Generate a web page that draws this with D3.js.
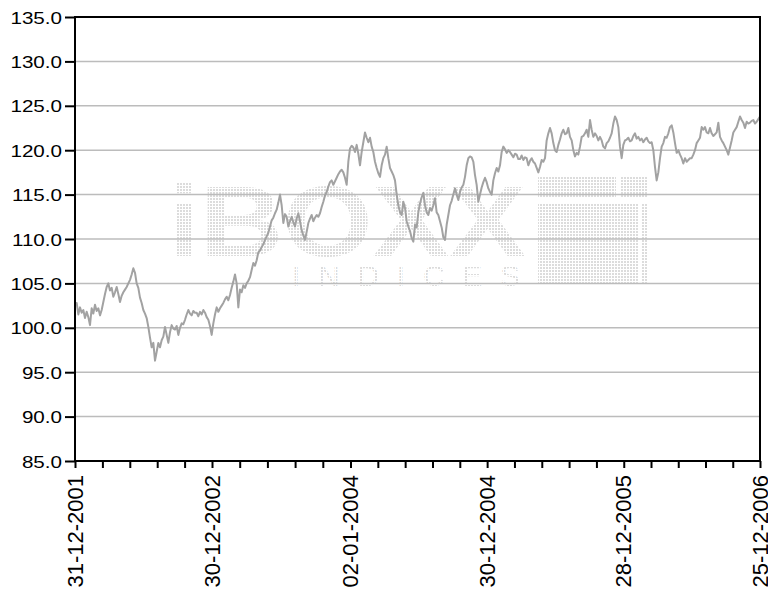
<!DOCTYPE html>
<html>
<head>
<meta charset="utf-8">
<script src="https://cdn.jsdelivr.net/npm/d3@7"></script>
<style>
  body { margin: 0; background: #fff; }
  svg { display: block; }
</style>
</head>
<body>
<svg id="chart"></svg>
<script>
// index level, evenly spaced observations from first to last date
const firstDate = "2001-12-31";
const lastDate = "2006-12-25";
const values = [
  102.6,102.8,101.5,102.3,101.7,102.0,101.1,101.8,101.2,100.3,
  102.2,101.6,102.6,101.9,102.2,101.4,102.0,102.9,103.8,104.6,
  105.0,104.2,104.5,103.5,104.0,104.6,103.8,102.9,103.6,104.0,
  104.3,104.6,105.0,105.4,106.0,106.7,106.2,105.0,104.5,103.4,
  102.8,102.0,101.6,101.1,100.1,98.9,97.8,98.3,96.3,97.3,
  98.3,97.8,98.6,99.0,100.1,99.2,98.3,99.5,100.3,99.9,
  99.8,100.2,99.2,100.0,100.5,100.4,100.9,101.5,102.0,101.6,
  101.4,101.9,101.7,101.7,101.3,101.8,101.5,102.0,101.7,101.2,
  100.9,100.2,99.2,100.5,101.5,102.3,101.8,102.2,102.5,102.8,
  103.2,103.5,103.1,103.7,104.5,105.2,106.0,105.0,102.3,104.3,
  104.0,104.8,104.5,105.0,105.3,105.7,106.5,107.3,107.0,107.6,
  108.5,108.7,109.1,109.4,109.9,110.3,110.7,111.4,112.1,112.4,
  112.9,113.3,114.1,115.0,113.8,111.8,112.8,112.5,111.4,112.0,
  112.5,111.9,111.4,112.3,112.9,112.0,111.0,110.4,109.9,110.8,
  111.8,112.3,112.7,112.0,112.4,112.7,112.5,112.9,113.6,114.2,
  114.9,115.3,115.9,116.4,116.6,116.1,116.5,116.9,117.3,117.6,
  117.8,117.5,116.9,116.1,118.7,120.2,120.5,120.3,119.8,120.6,
  119.6,118.3,119.8,120.9,122.0,121.4,120.9,121.4,120.4,119.8,
  118.7,118.0,117.4,117.0,118.3,119.1,119.5,120.4,119.1,118.0,
  117.6,117.2,116.6,115.0,113.8,113.0,112.7,114.2,113.5,112.0,
  111.4,110.9,110.1,109.7,111.6,111.3,113.0,114.0,114.7,115.2,
  113.8,113.0,112.7,113.5,113.2,113.8,114.6,113.0,112.7,112.0,
  111.3,110.2,109.9,111.6,112.7,113.8,114.3,115.0,115.7,115.0,
  114.4,115.3,115.8,116.1,117.0,118.3,119.1,119.3,119.2,118.7,
  117.2,116.1,114.2,115.0,115.8,116.4,116.9,116.4,115.7,115.3,
  115.0,116.6,117.4,118.0,117.6,118.3,119.8,120.4,120.1,119.7,
  120.0,119.8,119.5,119.2,119.6,119.5,119.0,119.0,119.4,118.9,
  119.2,119.1,118.3,118.8,119.1,118.7,118.5,118.0,117.5,118.1,
  118.9,118.7,119.1,121.1,121.9,122.5,121.9,120.8,120.0,119.8,
  120.6,121.2,121.9,122.3,121.8,121.9,122.5,121.5,121.1,120.0,
  119.3,119.7,119.5,120.4,121.5,121.6,121.9,122.3,121.5,123.4,
  122.3,121.5,121.9,121.6,121.1,121.5,121.1,120.4,120.2,120.8,
  121.0,121.4,121.9,123.0,123.8,123.4,122.6,120.4,119.1,120.6,
  121.1,121.2,121.4,121.0,121.1,121.6,121.9,121.3,121.5,121.1,
  121.3,120.9,121.2,121.4,121.0,120.8,120.9,120.0,118.1,116.6,
  117.5,119.1,120.4,120.8,121.5,121.4,121.9,122.6,122.8,122.0,
  120.8,119.7,120.0,119.5,119.1,118.5,119.1,118.7,118.9,119.1,
  119.1,119.5,120.0,120.8,121.1,121.4,122.6,122.3,122.6,122.0,
  121.9,122.5,121.9,121.6,121.8,122.0,123.1,121.5,121.1,120.8,
  120.4,120.0,119.5,120.3,121.1,122.0,122.3,122.6,123.2,123.8,
  123.4,123.1,122.5,123.2,123.0,123.1,123.3,123.4,123.0,123.2,
  123.5,123.8
];
const labelDates = ["2001-12-31", "2002-12-30", "2004-01-02", "2004-12-30", "2005-12-28", "2006-12-25"];
const yTicks = [85, 90, 95, 100, 105, 110, 115, 120, 125, 130, 135];
const minorPerInterval = 4;

const width = 768, height = 590;
const margin = {top: 17, right: 8, bottom: 129, left: 75};

const parse = d3.utcParse("%Y-%m-%d");
const fmt = d3.utcFormat("%d-%m-%Y");

const svg = d3.select("#chart").attr("width", width).attr("height", height);

const x = d3.scaleUtc()
  .domain([parse(firstDate), parse(lastDate)])
  .range([margin.left, width - margin.right]);

const y = d3.scaleLinear()
  .domain([85, 135])
  .range([height - margin.bottom, margin.top]);

// observation number -> date
const obsDate = d3.scaleLinear()
  .domain([0, values.length - 1])
  .range([parse(firstDate).getTime(), parse(lastDate).getTime()]);

const data = values.map((v, i) => ({date: new Date(obsDate(i)), value: v}));

// watermark
const defs = svg.append("defs");
const pat = defs.append("pattern")
  .attr("id", "dots")
  .attr("width", 3).attr("height", 3)
  .attr("patternUnits", "userSpaceOnUse");
pat.append("rect").attr("width", 2).attr("height", 2).attr("fill", "#dcdcdc");

const wm = svg.append("g").attr("fill", "url(#dots)");
wm.append("text")
  .attr("x", 168).attr("y", 256)
  .attr("textLength", 358)
  .attr("lengthAdjust", "spacingAndGlyphs")
  .style("font-family", "Liberation Sans, Arial, sans-serif")
  .style("font-weight", "bold")
  .style("font-size", "100px")
  .text("iBOXX");
wm.append("text")
  .attr("x", 292).attr("y", 286)
  .attr("textLength", 228)
  .attr("lengthAdjust", "spacing")
  .style("font-family", "Liberation Sans, Arial, sans-serif")
  .style("font-size", "30px")
  .text("INDICES");
wm.append("rect").attr("x", 538).attr("y", 203).attr("width", 100).attr("height", 80);
wm.append("rect").attr("x", 538).attr("y", 176).attr("width", 78).attr("height", 22);
wm.append("rect").attr("x", 621).attr("y", 176).attr("width", 26).attr("height", 22);
wm.append("rect").attr("x", 642).attr("y", 203).attr("width", 5).attr("height", 80);

// gridlines
svg.append("g")
  .selectAll("line")
  .data(yTicks.filter(t => t > 85 && t < 135))
  .join("line")
  .attr("x1", margin.left).attr("x2", width - margin.right)
  .attr("y1", d => y(d)).attr("y2", d => y(d))
  .attr("stroke", "#bcbcbc")
  .attr("stroke-width", 1.5);

// series
svg.append("path")
  .datum(data)
  .attr("fill", "none")
  .attr("stroke", "#a2a2a2")
  .attr("stroke-width", 2)
  .attr("stroke-linejoin", "round")
  .attr("d", d3.line().x(d => x(d.date)).y(d => y(d.value)));

// frame
svg.append("rect")
  .attr("x", margin.left).attr("y", margin.top)
  .attr("width", width - margin.left - margin.right)
  .attr("height", height - margin.top - margin.bottom)
  .attr("fill", "none")
  .attr("stroke", "#000")
  .attr("stroke-width", 2);

// y axis
const yAxis = svg.append("g")
  .attr("transform", `translate(${margin.left},0)`)
  .call(d3.axisLeft(y).tickValues(yTicks).tickSize(10).tickFormat(d3.format(".1f")));
yAxis.select(".domain").remove();
yAxis.selectAll(".tick line").attr("stroke", "#000").attr("stroke-width", 2);
yAxis.selectAll(".tick text")
  .attr("x", null).attr("dy", null)
  .attr("text-anchor", "end")
  .attr("transform", "translate(-13,6) scale(1.25,1)")
  .attr("fill", "#000")
  .style("font-family", "Liberation Sans, Arial, sans-serif")
  .style("font-size", "16.5px");

// x axis: labelled ticks plus minor ticks between them
const majors = labelDates.map(parse);
const minors = [];
for (let i = 0; i < majors.length - 1; i++) {
  const interp = d3.interpolateDate(majors[i], majors[i + 1]);
  for (let j = 1; j <= minorPerInterval; j++) {
    minors.push(new Date(+interp(j / (minorPerInterval + 1))));
  }
}

const xMinor = svg.append("g")
  .attr("transform", `translate(0,${height - margin.bottom})`)
  .call(d3.axisBottom(x).tickValues(minors).tickSize(7).tickFormat(""));
xMinor.select(".domain").remove();
xMinor.selectAll(".tick line").attr("stroke", "#000").attr("stroke-width", 2);

const xAxis = svg.append("g")
  .attr("transform", `translate(0,${height - margin.bottom})`)
  .call(d3.axisBottom(x).tickValues(majors).tickSize(7).tickFormat(fmt));
xAxis.select(".domain").remove();
xAxis.selectAll(".tick line").attr("stroke", "#000").attr("stroke-width", 2);
xAxis.selectAll(".tick text")
  .attr("y", null).attr("dy", null)
  .attr("x", -14)
  .attr("transform", "rotate(-90) translate(0,7)")
  .attr("text-anchor", "end")
  .attr("fill", "#000")
  .style("font-family", "Liberation Sans, Arial, sans-serif")
  .style("font-size", "22px");
</script>
</body>
</html>
